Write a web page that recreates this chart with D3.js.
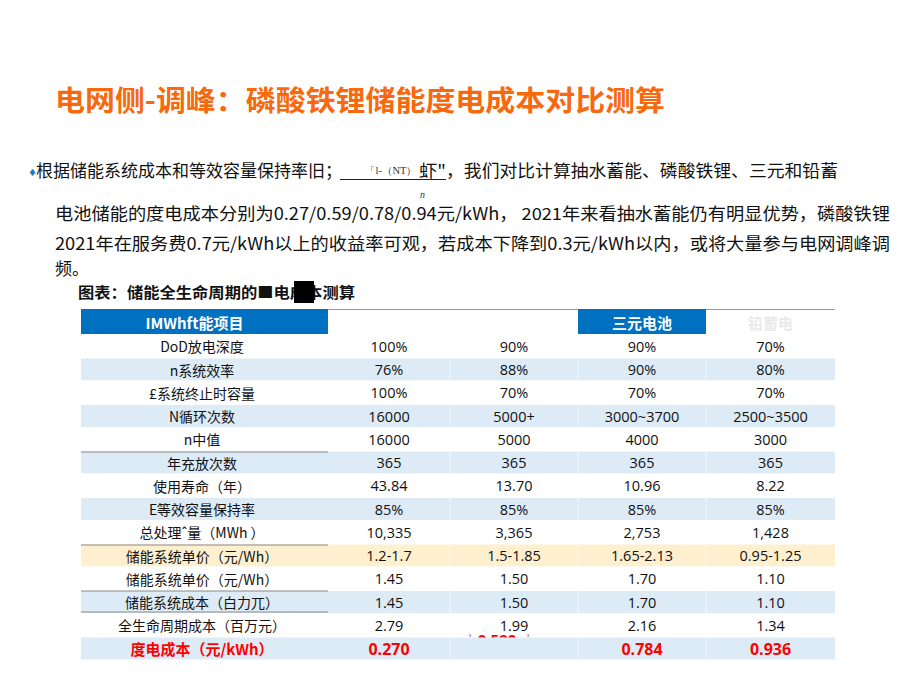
<!DOCTYPE html>
<html><head><meta charset="utf-8">
<script src="https://cdn.jsdelivr.net/npm/d3@7/dist/d3.min.js"></script>
<style>
html,body{margin:0;padding:0;background:#fff;}
svg{display:block;}
</style></head>
<body>
<script>
// ---------- data ----------
const title = "电网侧-调峰：磷酸铁锂储能度电成本对比测算";
const paraLine1a = "根据储能系统成本和等效容量保持率旧；";
const paraFormulaSmall = "「l-（NT）";
const paraFormulaBig = "虾\"";
const paraLine1b = "，我们对比计算抽水蓄能、磷酸铁锂、三元和铅蓄";
const paraFormulaDen = "n";
const paraLines = [
  "电池储能的度电成本分别为0.27/0.59/0.78/0.94元/kWh， 2021年来看抽水蓄能仍有明显优势，磷酸铁锂",
  "2021年在服务费0.7元/kWh以上的收益率可观，若成本下降到0.3元/kWh以内，或将大量参与电网调峰调",
  "频。"
];
const caption = "图表：储能全生命周期的■电成本测算";
const headers = ["IMWhft能项目", "", "", "三元电池", "铅蓄电"];
const rowLabels = ["DoD放电深度","n系统效率","£系统终止时容量","N循环次数","n中值","年充放次数","使用寿命（年）","E等效容量保持率","总处理ˆ量（MWh ）","储能系统单价（元/Wh）","储能系统单价（元/Wh）","储能系统成本（白力兀）","全生命周期成本（百万元）","度电成本（元/kWh）"];
const rowFill = ["w","b","w","b","w","b","w","b","w","y","w","b","w","b"];
const pumpedHydro = ["100%","76%","100%","16000","16000","365","43.84","85%","10,335","1.2-1.7","1.45","1.45","2.79","0.270"];
const lfp         = ["90%","88%","70%","5000+","5000","365","13.70","85%","3,365","1.5-1.85","1.50","1.50","1.99","0.590"];
const ncm         = ["90%","90%","70%","3000~3700","4000","365","10.96","85%","2,753","1.65-2.13","1.70","1.70","2.16","0.784"];
const leadAcid    = ["70%","80%","70%","2500~3500","3000","365","8.22","85%","1,428","0.95-1.25","1.10","1.10","1.34","0.936"];
const series = [pumpedHydro, lfp, ncm, leadAcid];

// ---------- layout ----------
const W = 920, H = 690;
const svg = d3.select("body").append("svg").attr("width", W).attr("height", H);
svg.append("rect").attr("width", W).attr("height", H).attr("fill", "#fff");
const CJK = "'Noto Sans CJK SC','Noto Sans',sans-serif";
const NUM = "'Open Sans','Noto Sans CJK SC',sans-serif";

// title
svg.append("text").attr("x", 55).attr("y", 111).text(title)
  .attr("font-family", CJK).attr("font-weight", 700).attr("font-size", 28)
  .attr("fill", "#f8690d").attr("textLength", 610).attr("lengthAdjust", "spacingAndGlyphs");

// paragraph line 1
svg.append("text").attr("x", 28).attr("y", 176).text("♦")
  .attr("font-size", 10).attr("fill", "#1f78c1").attr("font-family", "DejaVu Sans");
svg.append("text").attr("x", 36).attr("y", 177).text(paraLine1a)
  .attr("font-family", CJK).attr("font-size", 17).attr("fill", "#111")
  .attr("textLength", 306).attr("lengthAdjust", "spacingAndGlyphs");
svg.append("line").attr("x1", 340).attr("x2", 446).attr("y1", 179.5).attr("y2", 179.5)
  .attr("stroke", "#222").attr("stroke-width", 1);
svg.append("text").attr("x", 365).attr("y", 174).text(paraFormulaSmall)
  .attr("font-family", "'Liberation Serif',serif").attr("font-size", 10).attr("fill", "#333")
  .attr("textLength", 52).attr("lengthAdjust", "spacingAndGlyphs");
svg.append("text").attr("x", 419).attr("y", 177).text(paraFormulaBig)
  .attr("font-family", CJK).attr("font-size", 17).attr("fill", "#111")
  .attr("textLength", 27).attr("lengthAdjust", "spacingAndGlyphs");
svg.append("text").attr("x", 446).attr("y", 177).text(paraLine1b)
  .attr("font-family", CJK).attr("font-size", 17).attr("fill", "#111")
  .attr("textLength", 392).attr("lengthAdjust", "spacingAndGlyphs");
svg.append("text").attr("x", 420).attr("y", 198).text(paraFormulaDen)
  .attr("font-family", "'Liberation Serif',serif").attr("font-style", "italic")
  .attr("font-size", 10).attr("fill", "#333");

// paragraph lines 2-4
const lineY = [220, 250, 275];
const lineLen = [835, 835, null];
paraLines.forEach((t, i) => {
  const tx = svg.append("text").attr("x", 55).attr("y", lineY[i]).text(t)
    .attr("font-family", CJK).attr("font-size", 17).attr("fill", "#111");
  if (lineLen[i]) tx.attr("textLength", lineLen[i]).attr("lengthAdjust", "spacingAndGlyphs");
});

// caption
svg.append("text").attr("x", 78).attr("y", 298).text(caption)
  .attr("font-family", CJK).attr("font-weight", 700).attr("font-size", 15).attr("fill", "#111")
  .attr("textLength", 277).attr("lengthAdjust", "spacingAndGlyphs");
svg.append("rect").attr("x", 294).attr("y", 281).attr("width", 20).attr("height", 22).attr("fill", "#000");

// ---------- table ----------
const colEdges = [81, 328, 450, 578, 706, 835];
const colCenter = i => (colEdges[i] + colEdges[i + 1]) / 2;
const headTop = 309, headBot = 334;
const fillColor = {w: "#ffffff", b: "#ddebf7", y: "#fef0cf"};
const rowH = {w: 24.5, b: 22, y: 22};
const rowY = [];
let acc = headBot;
rowFill.forEach(f => { rowY.push(acc); acc += rowH[f]; });

const yTop = d3.scaleOrdinal().domain(d3.range(rowLabels.length)).range(rowY);

// header
svg.append("line").attr("x1", 328).attr("x2", 835).attr("y1", headTop + 0.5).attr("y2", headTop + 0.5)
  .attr("stroke", "#999").attr("stroke-width", 1.2);
headers.forEach((h, i) => {
  if (i === 0 || i === 3) {
    svg.append("rect").attr("x", colEdges[i]).attr("y", headTop)
      .attr("width", colEdges[i + 1] - colEdges[i]).attr("height", headBot - headTop).attr("fill", "#0070c0");
  }
  if (h) {
    svg.append("text").attr("x", colCenter(i) + (i === 0 ? -10 : 0)).attr("y", 322).text(h)
      .attr("text-anchor", "middle").attr("dominant-baseline", "central")
      .attr("font-family", CJK).attr("font-weight", 700).attr("font-size", 15)
      .attr("fill", i === 4 ? "#e9e9e9" : "#fff");
  }
});

// clip for the partly hidden value
const clip = svg.append("defs").append("clipPath").attr("id", "cl");
clip.append("rect").attr("x", 450).attr("y", 620).attr("width", 130).attr("height", yTop(13) - 620);

// rows
const rows = svg.selectAll("g.row").data(rowLabels).join("g").attr("class", "row")
  .attr("transform", (d, i) => `translate(0,${yTop(i)})`);
rows.append("rect").attr("x", 81).attr("width", 835 - 81)
  .attr("height", (d, i) => rowH[rowFill[i]]).attr("fill", (d, i) => fillColor[rowFill[i]]);
rows.filter((d, i) => rowFill[i] !== "w").selectAll("line.sep").data([450, 578, 706]).join("line")
  .attr("class", "sep").attr("x1", d => d).attr("x2", d => d).attr("y1", 0).attr("y2", 22)
  .attr("stroke", "#fff").attr("stroke-opacity", 0.6).attr("stroke-width", 1);

rows.append("text").attr("x", 202).attr("y", (d, i) => rowH[rowFill[i]] / 2).text(d => d)
  .attr("text-anchor", "middle").attr("dominant-baseline", "central")
  .attr("font-family", CJK).attr("font-size", (d, i) => i === 13 ? 15 : 14)
  .attr("font-weight", (d, i) => i === 13 ? 700 : 400)
  .attr("fill", (d, i) => i === 13 ? "#ff0000" : "#111");

series.forEach((vals, c) => {
  rows.append("text").attr("x", colCenter(c + 1)).attr("y", (d, i) => rowH[rowFill[i]] / 2)
    .text((d, i) => (i === 13 && c === 1) ? "" : vals[i])
    .attr("text-anchor", "middle").attr("dominant-baseline", "central")
    .attr("font-family", NUM).attr("font-size", (d, i) => i === 13 ? 16 : 14.5)
    .attr("font-weight", (d, i) => i === 13 ? 700 : 400)
    .attr("fill", (d, i) => i === 13 ? "#ff0000" : "#111");
});

// partially hidden value (LFP, last row)
const g590 = svg.append("g").attr("clip-path", "url(#cl)");
g590.append("text").attr("x", 497).attr("y", 645).text(lfp[13])
  .attr("text-anchor", "middle").attr("font-family", NUM).attr("font-weight", 700)
  .attr("font-size", 15).attr("fill", "#ff0000");
[468, 526].forEach(x => svg.append("text").attr("x", x).attr("y", 637).text("з")
  .attr("font-size", 6).attr("fill", "#777").attr("font-family", "DejaVu Serif"));

// grey rules under the label column
[452, 545, 591, 612].forEach(y => svg.append("line").attr("x1", 81).attr("x2", 328)
  .attr("y1", y).attr("y2", y).attr("stroke", "#8a8a8a").attr("stroke-width", 1.2));
</script>
</body></html>
